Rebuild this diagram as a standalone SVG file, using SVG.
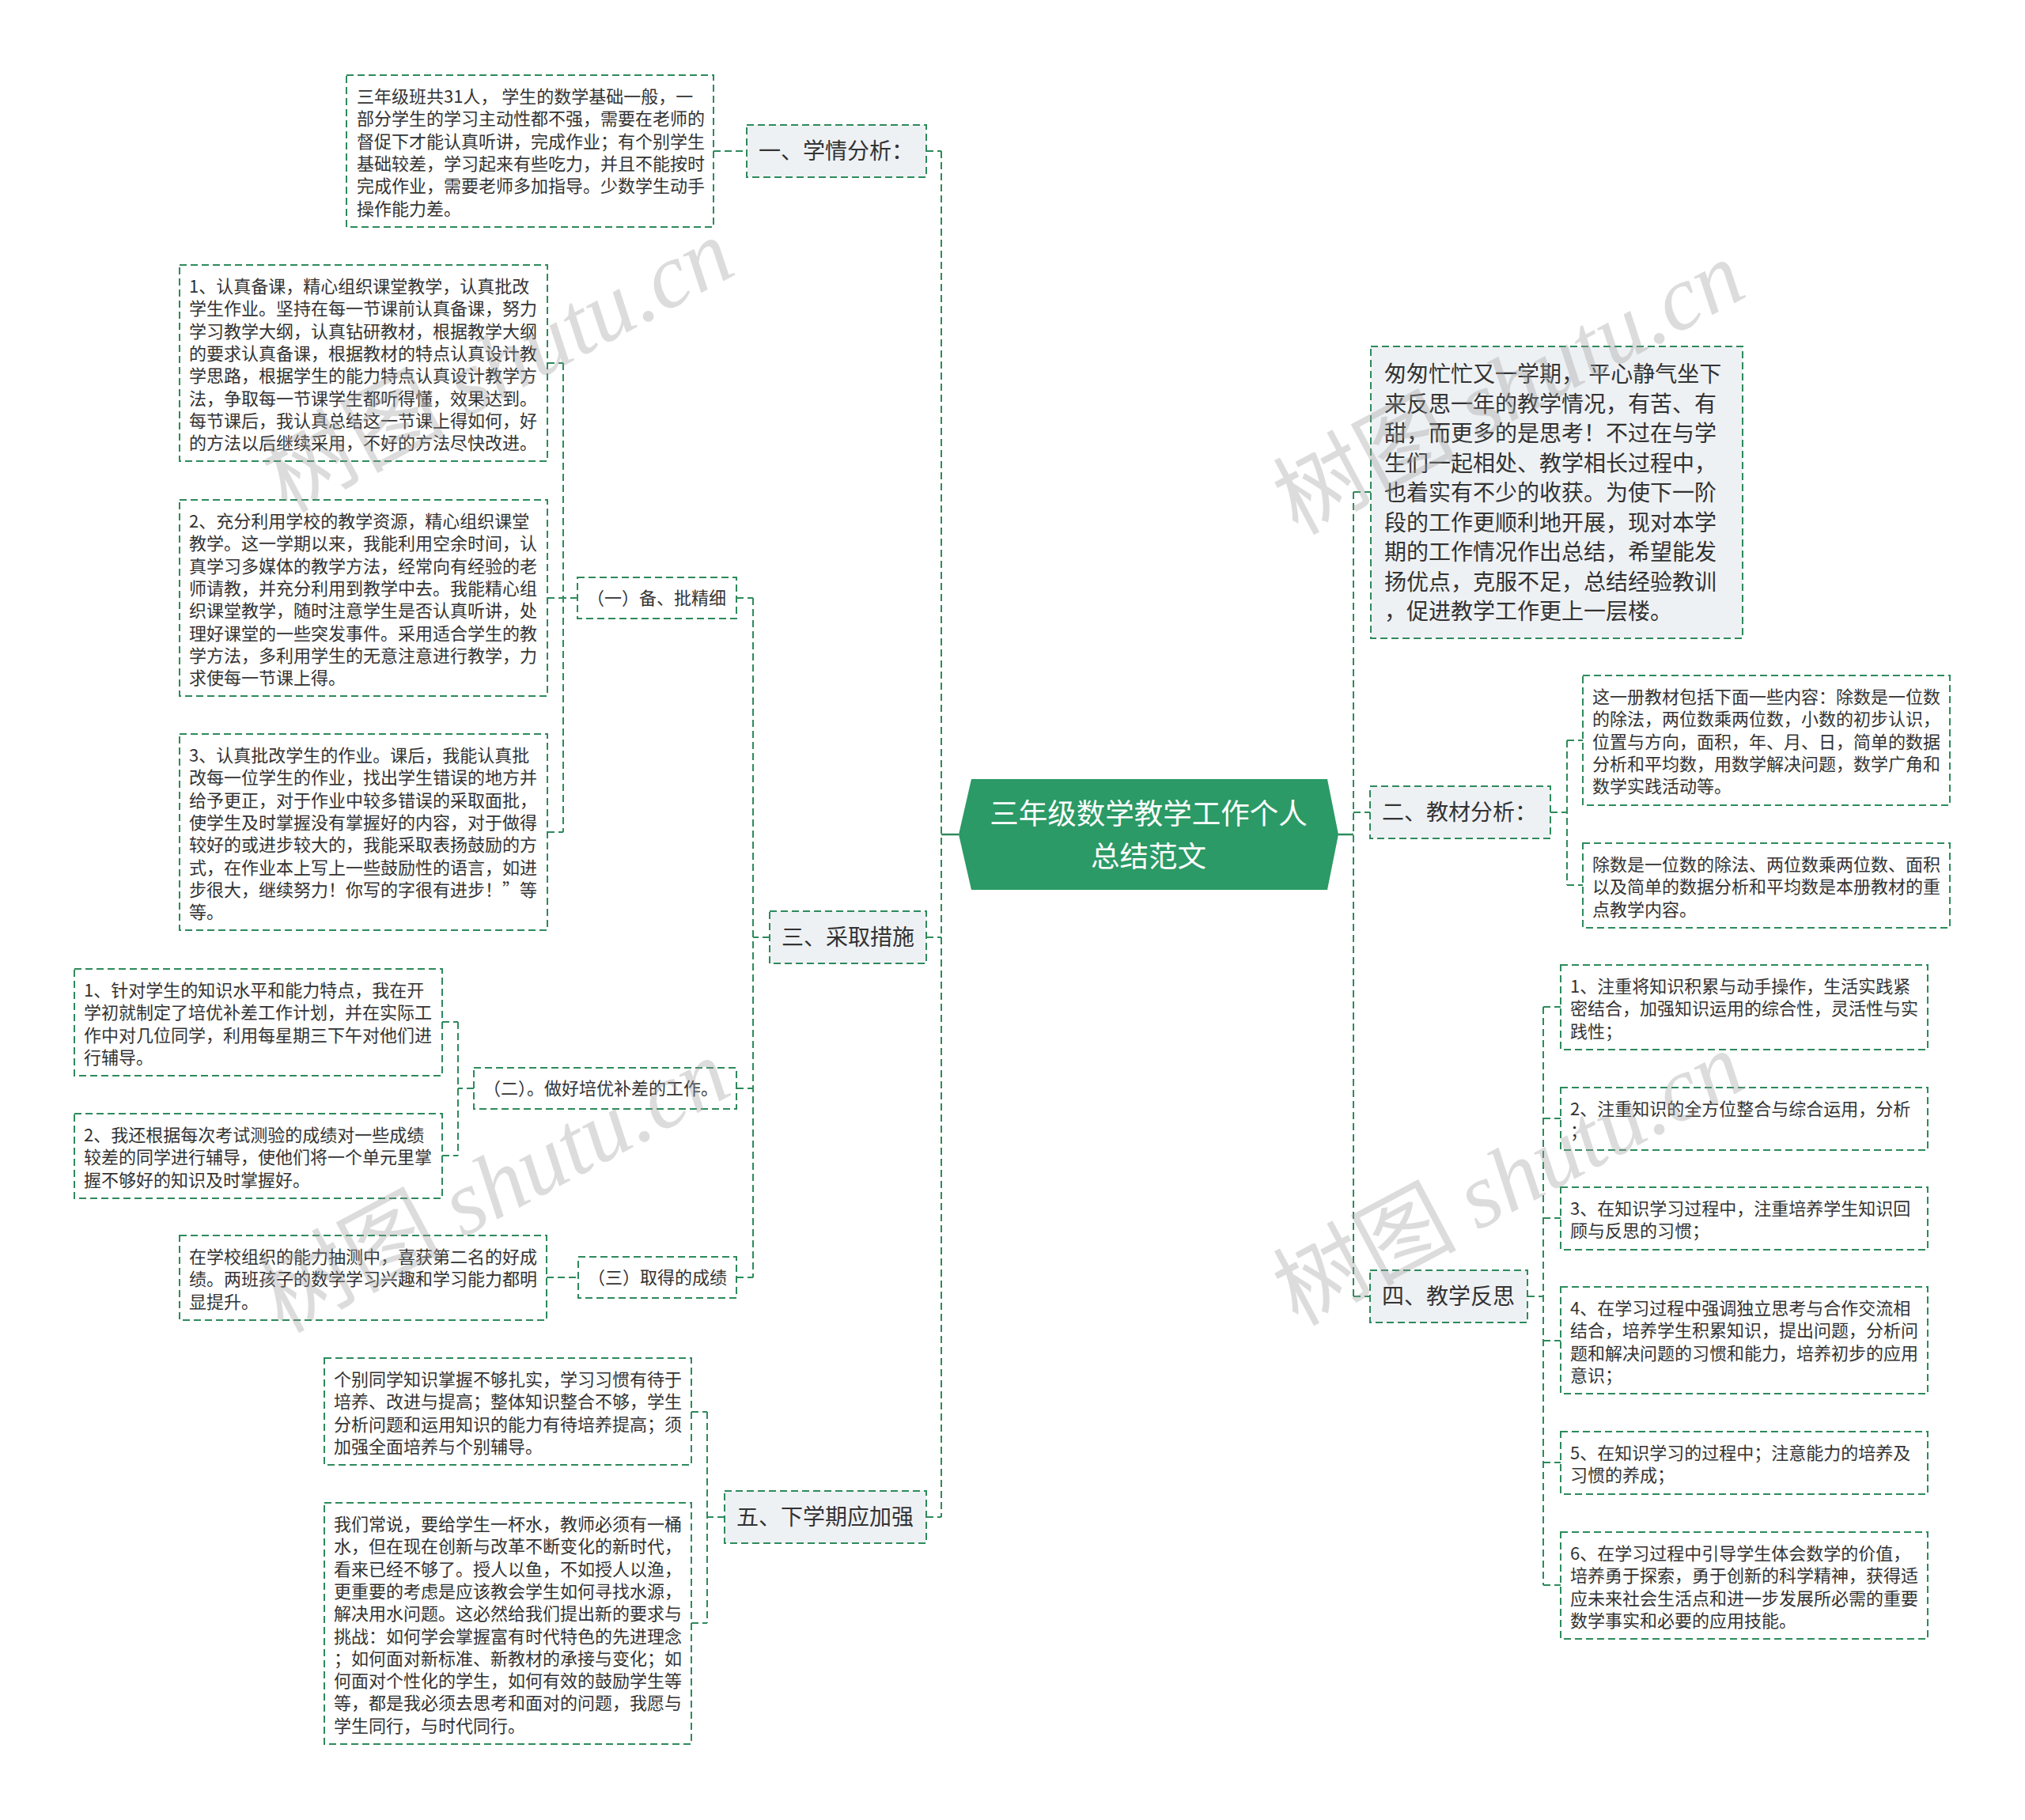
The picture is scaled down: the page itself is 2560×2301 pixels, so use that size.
<svg xmlns="http://www.w3.org/2000/svg" width="2560" height="2301" viewBox="0 0 2560 2301">
<style>
.bx{fill:#fff;stroke:#2e8a5c;stroke-width:2;stroke-dasharray:9 5}
.hd{fill:#eef1f4;stroke:#2e8a5c;stroke-width:2;stroke-dasharray:9 5}
.cn{fill:none;stroke:#2e8a5c;stroke-width:2;stroke-dasharray:9 5}
.sl{fill:none;stroke:#2e8a5c;stroke-width:2.5}
.t{font-family:"Noto Sans CJK SC","Liberation Sans",sans-serif;font-size:22px;fill:#333}
.h{font-family:"Noto Sans CJK SC","Liberation Sans",sans-serif;font-size:28px;fill:#333}
.c{font-family:"Noto Sans CJK SC","Liberation Sans",sans-serif;font-size:36.5px;fill:#fff;text-anchor:middle}
.wm{font-family:"Noto Sans CJK SC","Liberation Serif",serif;font-size:116px;fill:#9a9a9a;fill-opacity:0.35;text-anchor:middle}
.wm tspan.i{font-family:"Liberation Serif",serif;font-style:italic}
</style>
<rect width="2560" height="2301" fill="#fff"/>
<g id="connectors">
<path class="sl" d="M1212,1055 H1190 M1692,1055 H1711"/>
<path class="cn" d="M1190,191 V1918 M1171,191 H1190 M1171,1185 H1190 M1171,1918 H1190"/>
<path class="cn" d="M1711,622 V1639 M1711,622 H1733 M1711,1027 H1732 M1711,1639 H1732"/>
<path class="cn" d="M902,191 H944"/>
<path class="cn" d="M952,756 V1615 M973,1185 H952 M931,756 H952 M931,1376 H952 M931,1615 H952"/>
<path class="cn" d="M712,459 V1052 M730,756 H712 M692,459 H712 M692,756 H712 M692,1052 H712"/>
<path class="cn" d="M579,1292 V1461 M599,1376 H579 M559,1292 H579 M559,1461 H579"/>
<path class="cn" d="M691,1615 H731"/>
<path class="cn" d="M894,1785 V2052 M916,1918 H894 M874,1785 H894 M874,2052 H894"/>
<path class="cn" d="M1981,936 V1119 M1960,1027 H1981 M1981,936 H2001 M1981,1119 H2001"/>
<path class="cn" d="M1951,1273 V2004 M1931,1639 H1951 M1951,1273 H1973 M1951,1414 H1973 M1951,1540 H1973 M1951,1695 H1973 M1951,1849 H1973 M1951,2004 H1973"/>
</g>
<g id="root">
<polygon points="1228,985 1678,985 1692,1055 1678,1125 1228,1125 1212,1055" fill="#2b9a66"/>
<text class="c" x="1452" y="1042"><tspan x="1452">三年级数学教学工作个人</tspan><tspan x="1452" dy="53.5">总结范文</tspan></text>
</g>
<g id="n1">
<rect class="hd" x="944" y="158" width="227" height="66"/>
<text class="h" x="959" y="201">一、学情分析：</text>
</g>
<g id="n1a">
<rect class="bx" x="438" y="95" width="464" height="192"/>
<text class="t" x="451" y="130"><tspan x="451">三年级班共31人， 学生的数学基础一般，一</tspan><tspan x="451" dy="28.3">部分学生的学习主动性都不强，需要在老师的</tspan><tspan x="451" dy="28.3">督促下才能认真听讲，完成作业；有个别学生</tspan><tspan x="451" dy="28.3">基础较差，学习起来有些吃力，并且不能按时</tspan><tspan x="451" dy="28.3">完成作业，需要老师多加指导。少数学生动手</tspan><tspan x="451" dy="28.3">操作能力差。</tspan></text>
</g>
<g id="n3">
<rect class="hd" x="973" y="1152" width="198" height="66"/>
<text class="h" x="988" y="1195">三、采取措施</text>
</g>
<g id="n3a">
<rect class="bx" x="730" y="730" width="201" height="52"/>
<text class="t" x="742" y="764">（一）备、批精细</text>
</g>
<g id="n3a1">
<rect class="bx" x="227" y="335" width="465" height="248"/>
<text class="t" x="239" y="370"><tspan x="239">1、认真备课，精心组织课堂教学，认真批改</tspan><tspan x="239" dy="28.3">学生作业。坚持在每一节课前认真备课，努力</tspan><tspan x="239" dy="28.3">学习教学大纲，认真钻研教材，根据教学大纲</tspan><tspan x="239" dy="28.3">的要求认真备课，根据教材的特点认真设计教</tspan><tspan x="239" dy="28.3">学思路，根据学生的能力特点认真设计教学方</tspan><tspan x="239" dy="28.3">法，争取每一节课学生都听得懂，效果达到。</tspan><tspan x="239" dy="28.3">每节课后，我认真总结这一节课上得如何，好</tspan><tspan x="239" dy="28.3">的方法以后继续采用，不好的方法尽快改进。</tspan></text>
</g>
<g id="n3a2">
<rect class="bx" x="227" y="632" width="465" height="248"/>
<text class="t" x="239" y="667"><tspan x="239">2、充分利用学校的教学资源，精心组织课堂</tspan><tspan x="239" dy="28.3">教学。这一学期以来，我能利用空余时间，认</tspan><tspan x="239" dy="28.3">真学习多媒体的教学方法，经常向有经验的老</tspan><tspan x="239" dy="28.3">师请教，并充分利用到教学中去。我能精心组</tspan><tspan x="239" dy="28.3">织课堂教学，随时注意学生是否认真听讲，处</tspan><tspan x="239" dy="28.3">理好课堂的一些突发事件。采用适合学生的教</tspan><tspan x="239" dy="28.3">学方法，多利用学生的无意注意进行教学，力</tspan><tspan x="239" dy="28.3">求使每一节课上得。</tspan></text>
</g>
<g id="n3a3">
<rect class="bx" x="227" y="928" width="465" height="248"/>
<text class="t" x="239" y="963"><tspan x="239">3、认真批改学生的作业。课后，我能认真批</tspan><tspan x="239" dy="28.3">改每一位学生的作业，找出学生错误的地方并</tspan><tspan x="239" dy="28.3">给予更正，对于作业中较多错误的采取面批，</tspan><tspan x="239" dy="28.3">使学生及时掌握没有掌握好的内容，对于做得</tspan><tspan x="239" dy="28.3">较好的或进步较大的，我能采取表扬鼓励的方</tspan><tspan x="239" dy="28.3">式，在作业本上写上一些鼓励性的语言，如进</tspan><tspan x="239" dy="28.3">步很大，继续努力！你写的字很有进步！”等</tspan><tspan x="239" dy="28.3">等。</tspan></text>
</g>
<g id="n3b">
<rect class="bx" x="599" y="1350" width="332" height="52"/>
<text class="t" x="611" y="1384">（二）。做好培优补差的工作。</text>
</g>
<g id="n3b1">
<rect class="bx" x="94" y="1225" width="465" height="135"/>
<text class="t" x="106" y="1260"><tspan x="106">1、针对学生的知识水平和能力特点，我在开</tspan><tspan x="106" dy="28.3">学初就制定了培优补差工作计划，并在实际工</tspan><tspan x="106" dy="28.3">作中对几位同学，利用每星期三下午对他们进</tspan><tspan x="106" dy="28.3">行辅导。</tspan></text>
</g>
<g id="n3b2">
<rect class="bx" x="94" y="1408" width="465" height="107"/>
<text class="t" x="106" y="1443"><tspan x="106">2、我还根据每次考试测验的成绩对一些成绩</tspan><tspan x="106" dy="28.3">较差的同学进行辅导，使他们将一个单元里掌</tspan><tspan x="106" dy="28.3">握不够好的知识及时掌握好。</tspan></text>
</g>
<g id="n3c">
<rect class="bx" x="731" y="1589" width="200" height="52"/>
<text class="t" x="743" y="1623">（三）取得的成绩</text>
</g>
<g id="n3c1">
<rect class="bx" x="227" y="1562" width="464" height="107"/>
<text class="t" x="239" y="1597"><tspan x="239">在学校组织的能力抽测中，喜获第二名的好成</tspan><tspan x="239" dy="28.3">绩。两班孩子的数学学习兴趣和学习能力都明</tspan><tspan x="239" dy="28.3">显提升。</tspan></text>
</g>
<g id="n5">
<rect class="hd" x="916" y="1885" width="255" height="66"/>
<text class="h" x="931" y="1928">五、下学期应加强</text>
</g>
<g id="n5a">
<rect class="bx" x="410" y="1717" width="464" height="135"/>
<text class="t" x="422" y="1752"><tspan x="422">个别同学知识掌握不够扎实，学习习惯有待于</tspan><tspan x="422" dy="28.3">培养、改进与提高；整体知识整合不够，学生</tspan><tspan x="422" dy="28.3">分析问题和运用知识的能力有待培养提高；须</tspan><tspan x="422" dy="28.3">加强全面培养与个别辅导。</tspan></text>
</g>
<g id="n5b">
<rect class="bx" x="410" y="1900" width="464" height="305"/>
<text class="t" x="422" y="1935"><tspan x="422">我们常说，要给学生一杯水，教师必须有一桶</tspan><tspan x="422" dy="28.3">水，但在现在创新与改革不断变化的新时代，</tspan><tspan x="422" dy="28.3">看来已经不够了。授人以鱼，不如授人以渔，</tspan><tspan x="422" dy="28.3">更重要的考虑是应该教会学生如何寻找水源，</tspan><tspan x="422" dy="28.3">解决用水问题。这必然给我们提出新的要求与</tspan><tspan x="422" dy="28.3">挑战：如何学会掌握富有时代特色的先进理念</tspan><tspan x="422" dy="28.3">；如何面对新标准、新教材的承接与变化；如</tspan><tspan x="422" dy="28.3">何面对个性化的学生，如何有效的鼓励学生等</tspan><tspan x="422" dy="28.3">等，都是我必须去思考和面对的问题，我愿与</tspan><tspan x="422" dy="28.3">学生同行，与时代同行。</tspan></text>
</g>
<g id="n0">
<rect class="hd" x="1733" y="438" width="470" height="369"/>
<text class="h" x="1750" y="483"><tspan x="1750">匆匆忙忙又一学期， 平心静气坐下</tspan><tspan x="1750" dy="37.5">来反思一年的教学情况，有苦、有</tspan><tspan x="1750" dy="37.5">甜，而更多的是思考！不过在与学</tspan><tspan x="1750" dy="37.5">生们一起相处、教学相长过程中，</tspan><tspan x="1750" dy="37.5">也着实有不少的收获。为使下一阶</tspan><tspan x="1750" dy="37.5">段的工作更顺利地开展，现对本学</tspan><tspan x="1750" dy="37.5">期的工作情况作出总结，希望能发</tspan><tspan x="1750" dy="37.5">扬优点，克服不足，总结经验教训</tspan><tspan x="1750" dy="37.5">，促进教学工作更上一层楼。</tspan></text>
</g>
<g id="n2">
<rect class="hd" x="1732" y="994" width="228" height="66"/>
<text class="h" x="1747" y="1037">二、教材分析：</text>
</g>
<g id="n2a">
<rect class="bx" x="2001" y="854" width="464" height="164"/>
<text class="t" x="2013" y="889"><tspan x="2013">这一册教材包括下面一些内容：除数是一位数</tspan><tspan x="2013" dy="28.3">的除法，两位数乘两位数，小数的初步认识，</tspan><tspan x="2013" dy="28.3">位置与方向，面积，年、月、日，简单的数据</tspan><tspan x="2013" dy="28.3">分析和平均数，用数学解决问题，数学广角和</tspan><tspan x="2013" dy="28.3">数学实践活动等。</tspan></text>
</g>
<g id="n2b">
<rect class="bx" x="2001" y="1066" width="464" height="107"/>
<text class="t" x="2013" y="1101"><tspan x="2013">除数是一位数的除法、两位数乘两位数、面积</tspan><tspan x="2013" dy="28.3">以及简单的数据分析和平均数是本册教材的重</tspan><tspan x="2013" dy="28.3">点教学内容。</tspan></text>
</g>
<g id="n4">
<rect class="hd" x="1732" y="1606" width="199" height="66"/>
<text class="h" x="1747" y="1649">四、教学反思</text>
</g>
<g id="n4a">
<rect class="bx" x="1973" y="1220" width="464" height="107"/>
<text class="t" x="1985" y="1255"><tspan x="1985">1、注重将知识积累与动手操作，生活实践紧</tspan><tspan x="1985" dy="28.3">密结合，加强知识运用的综合性，灵活性与实</tspan><tspan x="1985" dy="28.3">践性；</tspan></text>
</g>
<g id="n4b">
<rect class="bx" x="1973" y="1375" width="464" height="79"/>
<text class="t" x="1985" y="1410"><tspan x="1985">2、注重知识的全方位整合与综合运用，分析</tspan><tspan x="1985" dy="28.3">；</tspan></text>
</g>
<g id="n4c">
<rect class="bx" x="1973" y="1501" width="464" height="79"/>
<text class="t" x="1985" y="1536"><tspan x="1985">3、在知识学习过程中，注重培养学生知识回</tspan><tspan x="1985" dy="28.3">顾与反思的习惯；</tspan></text>
</g>
<g id="n4d">
<rect class="bx" x="1973" y="1627" width="464" height="135"/>
<text class="t" x="1985" y="1662"><tspan x="1985">4、在学习过程中强调独立思考与合作交流相</tspan><tspan x="1985" dy="28.3">结合，培养学生积累知识，提出问题，分析问</tspan><tspan x="1985" dy="28.3">题和解决问题的习惯和能力，培养初步的应用</tspan><tspan x="1985" dy="28.3">意识；</tspan></text>
</g>
<g id="n4e">
<rect class="bx" x="1973" y="1810" width="464" height="79"/>
<text class="t" x="1985" y="1845"><tspan x="1985">5、在知识学习的过程中；注意能力的培养及</tspan><tspan x="1985" dy="28.3">习惯的养成；</tspan></text>
</g>
<g id="n4f">
<rect class="bx" x="1973" y="1937" width="464" height="135"/>
<text class="t" x="1985" y="1972"><tspan x="1985">6、在学习过程中引导学生体会数学的价值，</tspan><tspan x="1985" dy="28.3">培养勇于探索，勇于创新的科学精神，获得适</tspan><tspan x="1985" dy="28.3">应未来社会生活点和进一步发展所必需的重要</tspan><tspan x="1985" dy="28.3">数学事实和必要的应用技能。</tspan></text>
</g>
<g id="watermark">
<text class="wm" transform="translate(648,497) rotate(-28)">树图 <tspan class="i">shutu.cn</tspan></text>
<text class="wm" transform="translate(1926,525) rotate(-28)">树图 <tspan class="i">shutu.cn</tspan></text>
<text class="wm" transform="translate(643,1534) rotate(-28)">树图 <tspan class="i">shutu.cn</tspan></text>
<text class="wm" transform="translate(1926,1525) rotate(-28)">树图 <tspan class="i">shutu.cn</tspan></text>
</g>
</svg>
